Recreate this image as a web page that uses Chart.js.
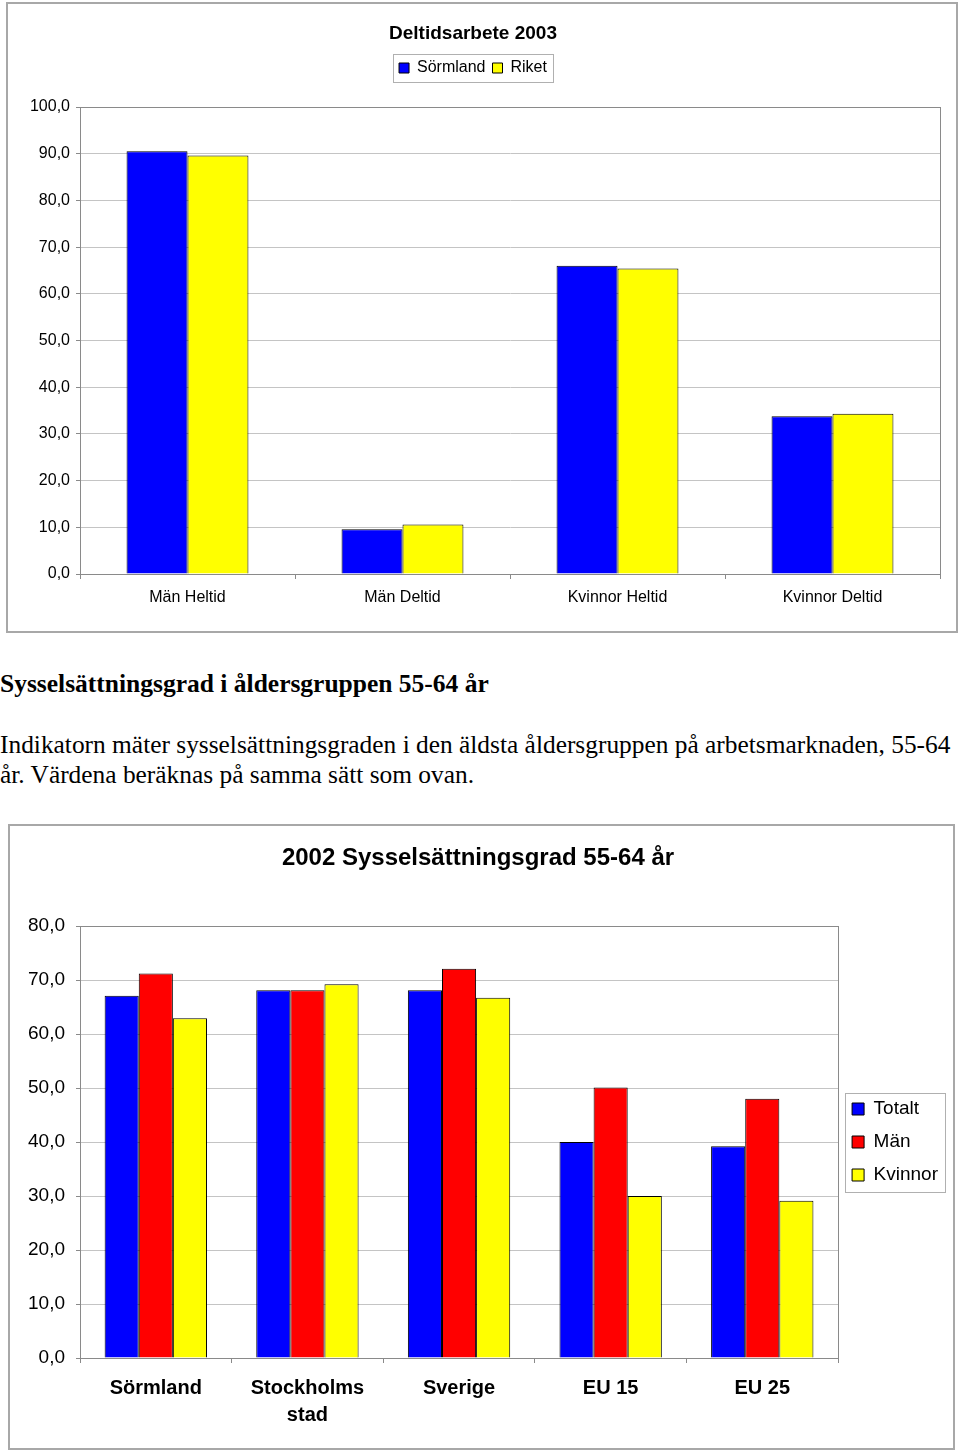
<!DOCTYPE html>
<html>
<head>
<meta charset="utf-8">
<script src="https://cdn.jsdelivr.net/npm/chart.js@4/dist/chart.umd.min.js"></script>
<style>
body { margin: 0; background: #fff; width: 960px; height: 1454px; position: relative; overflow: hidden; }
.ruta { position: absolute; outline: 2px solid #a8a8a8; outline-offset: -2px; }
.rubrik { position: absolute; left: 0; top: 669px; font-family: "Liberation Serif", "Times New Roman", serif; font-weight: bold; font-size: 25.5px; line-height: 30px; white-space: nowrap; }
.text { position: absolute; left: 0; top: 730px; font-family: "Liberation Serif", "Times New Roman", serif; font-size: 25.4px; line-height: 29.5px; white-space: nowrap; }
</style>
</head>
<body>

<div class="ruta" style="left:6px; top:2px; width:952px; height:631px;">
  <canvas id="diagram1"></canvas>
</div>

<div class="rubrik">Sysselsättningsgrad i åldersgruppen 55-64 år</div>
<div class="text">Indikatorn mäter sysselsättningsgraden i den äldsta åldersgruppen på arbetsmarknaden, 55-64<br>år. Värdena beräknas på samma sätt som ovan.</div>

<div class="ruta" style="left:8px; top:824px; width:947px; height:626px;">
  <canvas id="diagram2"></canvas>
</div>

<script>
// Deltidsarbete 2003
var kategorier1 = ['Män Heltid', 'Män Deltid', 'Kvinnor Heltid', 'Kvinnor Deltid'];
var sormland2003 = [90.5, 9.6, 66.0, 33.8];
var riket2003 = [89.6, 10.6, 65.4, 34.3];

// 2002 Sysselsättningsgrad 55-64 år
var omraden = ['Sörmland', ['Stockholms', 'stad'], 'Sverige', 'EU 15', 'EU 25'];
var totalt = [67.1, 68.1, 68.1, 40.0, 39.2];
var man = [71.2, 68.1, 72.1, 50.1, 48.0];
var kvinnor = [62.9, 69.2, 66.7, 30.0, 29.1];

var typsnitt = '"Liberation Sans", Arial, sans-serif';
Chart.defaults.font.family = typsnitt;
Chart.defaults.color = '#000';
Chart.defaults.animation = false;

function kommaTal(v) {
    return Number(v).toFixed(1).replace('.', ',');
}

// ram runt ritytan och runt förklaringen
var ramPlugin = {
    id: 'ramar',
    afterDraw: function(chart) {
        var ctx = chart.ctx;
        var a = chart.chartArea;
        ctx.save();
        ctx.strokeStyle = '#8a8a8a';
        ctx.lineWidth = 1;
        ctx.strokeRect(Math.round(a.left) + 0.5, Math.round(a.top) + 0.5,
            Math.round(a.right - a.left), Math.round(a.bottom - a.top));

        var boxar = chart.legend && chart.legend.legendHitBoxes;
        if (boxar && boxar.length) {
            var l = Infinity, t = Infinity, r = -Infinity, b = -Infinity;
            boxar.forEach(function(h) {
                l = Math.min(l, h.left);
                t = Math.min(t, h.top);
                r = Math.max(r, h.left + h.width);
                b = Math.max(b, h.top + h.height);
            });
            var m = chart.options.plugins.legend.ramMarginal || 6;
            ctx.strokeStyle = '#b0b0b0';
            ctx.strokeRect(Math.round(l - m) + 0.5, Math.round(t - m) + 0.5,
                Math.round(r - l + 2 * m), Math.round(b - t + 2 * m));
        }
        ctx.restore();
    }
};

new Chart(document.getElementById('diagram1'), {
    type: 'bar',
    data: {
        labels: kategorier1,
        datasets: [
            { label: 'Sörmland', data: sormland2003, backgroundColor: '#0000ff', borderColor: '#000', borderWidth: 1 },
            { label: 'Riket', data: riket2003, backgroundColor: '#ffff00', borderColor: '#000', borderWidth: 1 }
        ]
    },
    options: {
        responsive: true,
        maintainAspectRatio: false,
        layout: { padding: { left: 0, right: 18, top: 0, bottom: 0 } },
        datasets: { bar: { categoryPercentage: 0.567, barPercentage: 1.0 } },
        plugins: {
            title: {
                display: true,
                text: 'Deltidsarbete 2003',
                font: { size: 19, weight: 'bold' },
                padding: { top: 20.4, bottom: 7.8 }
            },
            legend: {
                position: 'top',
                ramMarginal: 6,
                labels: { boxWidth: 10, boxHeight: 10, padding: 7, font: { size: 16 } }
            },
            subtitle: {
                display: true,
                text: '',
                weight: 500,
                font: { size: 21, lineHeight: 1 },
                padding: 0
            },
            tooltip: { enabled: false }
        },
        scales: {
            x: {
                afterFit: function(s) { s.height = 59; },
                grid: { offset: true, drawOnChartArea: false, tickLength: 5, color: '#8a8a8a' },
                border: { color: '#8a8a8a' },
                ticks: { padding: 9.4, font: { size: 16 } }
            },
            y: {
                min: 0,
                max: 100,
                afterFit: function(s) { s.width = 74; },
                grid: { color: '#c4c4c4', tickLength: 4, tickColor: '#8a8a8a' },
                border: { color: '#8a8a8a' },
                ticks: { stepSize: 10, padding: 6, font: { size: 16 }, callback: kommaTal }
            }
        }
    },
    plugins: [ramPlugin]
});

new Chart(document.getElementById('diagram2'), {
    type: 'bar',
    data: {
        labels: omraden,
        datasets: [
            { label: 'Totalt', data: totalt, backgroundColor: '#0000ff', borderColor: '#000', borderWidth: 1 },
            { label: 'Män', data: man, backgroundColor: '#ff0000', borderColor: '#000', borderWidth: 1 },
            { label: 'Kvinnor', data: kvinnor, backgroundColor: '#ffff00', borderColor: '#000', borderWidth: 1 }
        ]
    },
    options: {
        responsive: true,
        maintainAspectRatio: false,
        layout: { padding: { left: 0, right: 7, top: 0, bottom: 0 } },
        datasets: { bar: { categoryPercentage: 0.675, barPercentage: 1.0 } },
        plugins: {
            title: {
                display: true,
                text: '2002 Sysselsättningsgrad 55-64 år',
                font: { size: 24, weight: 'bold' },
                padding: { top: 19.6, bottom: 53.6 }
            },
            legend: {
                position: 'right',
                fullSize: false,
                ramMarginal: 7,
                labels: { boxWidth: 12, boxHeight: 12, padding: 14, font: { size: 19 } }
            },
            tooltip: { enabled: false }
        },
        scales: {
            x: {
                afterFit: function(s) { s.height = 92; },
                grid: { offset: true, drawOnChartArea: false, tickLength: 5, color: '#8a8a8a' },
                border: { color: '#8a8a8a' },
                ticks: { padding: 11.5, font: { size: 20, weight: 'bold', lineHeight: 1.35 } }
            },
            y: {
                min: 0,
                max: 80,
                afterFit: function(s) { s.width = 72; },
                grid: { color: '#c4c4c4', tickLength: 4, tickColor: '#8a8a8a' },
                border: { color: '#8a8a8a' },
                ticks: { stepSize: 10, padding: 11, font: { size: 19 }, callback: kommaTal }
            }
        }
    },
    plugins: [ramPlugin]
});
</script>
</body>
</html>
